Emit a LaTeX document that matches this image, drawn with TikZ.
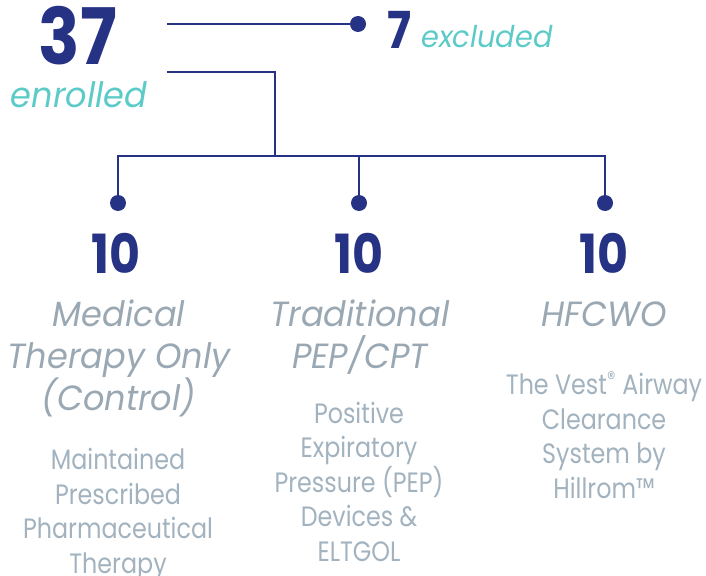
\documentclass[tikz,border=0pt]{standalone}
\usepackage{fontspec}
\setmainfont{Poppins}[FakeStretch=0.88]
\newfontfamily\armfont{Poppins}[FakeStretch=0.96]
\newfontfamily\notefont{Poppins}[FakeStretch=0.85]
\definecolor{navy}{HTML}{263385}
\definecolor{aqua}{HTML}{5CCBC8}
\definecolor{armgray}{HTML}{9AA8B3}
\definecolor{notegray}{HTML}{A2B3BF}
\tikzset{
  link/.style={navy, line width=2.5pt},
  dot/.style={circle, fill=navy, inner sep=0pt, minimum size=16pt},
  count/.style={navy, anchor=base, inner sep=0pt, font=\bfseries\fontsize{54}{54}\selectfont},
  tag/.style={aqua, anchor=base, inner sep=0pt, font=\armfont\itshape\fontsize{35}{35}\selectfont},
  arm/.style={armgray, anchor=base, inner sep=0pt, align=center, font=\armfont\itshape\fontsize{35}{42}\selectfont},
  note/.style={notegray, anchor=base, inner sep=0pt, align=center, font=\notefont\fontsize{28}{34.5}\selectfont},
}
\begin{document}
\begin{tikzpicture}[x=1pt,y=-1pt]
\useasboundingbox (0,0) rectangle (706,575);

\node[count, font=\bfseries\fontsize{78}{78}\selectfont] (total) at (78,65) {37}; %enrolled
\node[tag] (enr) at (79,108) {enrolled};
\node[count, font=\bfseries\fontsize{51}{51}\selectfont] (out) at (399,49) {7}; %excluded
\node[tag, font=\armfont\itshape\fontsize{30}{30}\selectfont] (exc) at (487,48) {excluded};

\coordinate (outL) at (167,24);
\coordinate (inL) at (167,72);
\coordinate (split) at (275,156);
\node[dot] (outdot) at (358,24) {};
\node[dot] (dA) at (118,203) {};
\node[dot] (dB) at (359,203) {};
\node[dot] (dC) at (605,203) {};

\draw[link] (outL) -- (outdot); %excluded branch
\draw[link] (inL) -| (split); %enrolled branch
\draw[link] (dA) |- (split) -| (dC); %bar
\draw[link] (dB) -- (dB |- split);

\node[count] (nA) at (116,273) {10};
\node[count] (nB) at (359,273) {10};
\node[count] (nC) at (604,273) {10};

% base = last line
\node[arm] (armA) at (119,410) {Medical\\Therapy Only\\(Control)};
\node[arm] (armB) at (360,368) {Traditional\\PEP/CPT};
\node[arm] (armC) at (604,326) {HFCWO};

\node[note] (noteA) at (118,573) {Maintained\\Prescribed\\Pharmaceutical\\Therapy};
\node[note] (noteB) at (359,561) {Positive\\Expiratory\\Pressure (PEP)\\Devices \&\\ELTGOL};
\node[note] (noteC) at (604,498) {The Vest\textsuperscript{®} Airway\\Clearance\\System by\\Hillrom™};

\end{tikzpicture}
\end{document}
